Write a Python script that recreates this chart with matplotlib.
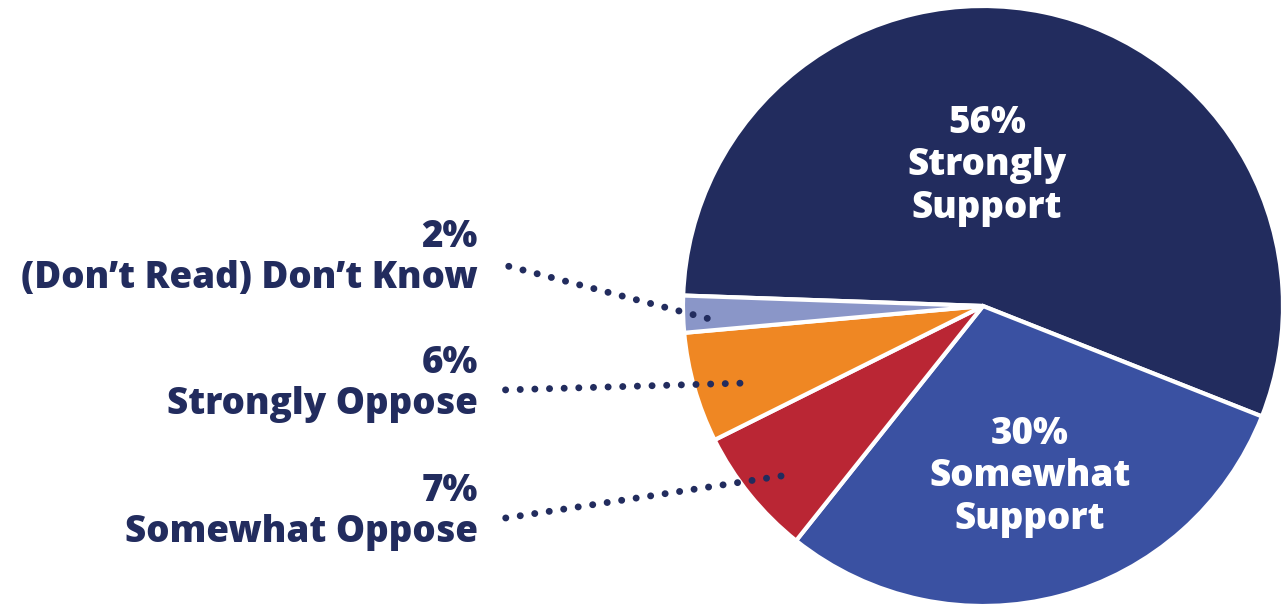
import matplotlib.pyplot as plt
import numpy as np

plt.rcParams['font.family'] = ['Open Sans', 'DejaVu Sans']

labels = ["Strongly\nSupport", "Somewhat\nSupport", "Somewhat Oppose",
          "Strongly Oppose", "(Don\u2019t Read) Don\u2019t Know"]
values = [56, 30, 7, 6, 2]
colors = ["#222C5E", "#3A51A2", "#BA2634", "#EF8723", "#8A96C8"]
navy = "#222C5E"

W, H = 1281, 607
fig = plt.figure(figsize=(W / 100, H / 100), dpi=100)
ax = fig.add_axes([0, 0, 1, 1])

cx, cy, r = 983, 301, 300
wedges, _ = ax.pie(values, colors=colors, startangle=178, counterclock=False,
                   center=(cx, cy), radius=r, frame=True,
                   wedgeprops=dict(edgecolor="white", linewidth=3))
ax.set_xlim(0, W)
ax.set_ylim(0, H)
ax.set_aspect("equal")
ax.axis("off")

fs = 26.5
# labels inside the two big slices
ax.text(987, 441, f"{values[0]}%\n{labels[0]}", ha="center", va="center",
        color="white", fontsize=fs, fontweight=800, linespacing=1.2)
ax.text(1030, 130, f"{values[1]}%\n{labels[1]}", ha="center", va="center",
        color="white", fontsize=fs, fontweight=800, linespacing=1.2)

# small slices: labels on the left with dotted leaders
# (slice index, label y, leader start, radius fraction, angle nudge)
small = [(4, 349, (500, 343), 0.92, 1.0),
         (3, 223, (502, 217), 0.85, 1.8),
         (2, 95, (499, 88), 0.88, 1.1)]
for i, ty, start, frac, nudge in small:
    w = wedges[i]
    mid = np.deg2rad((w.theta1 + w.theta2) / 2 + nudge)
    ex, ey = cx + frac * r * np.cos(mid), cy + frac * r * np.sin(mid)
    ax.plot([ex, start[0]], [ey, start[1]], color=navy, linewidth=5,
            linestyle=(0, (0.01, 2.1)), dash_capstyle="round", zorder=5)
    ax.text(478, ty, f"{values[i]}%\n{labels[i]}", ha="right", va="center",
            multialignment="right", color=navy, fontsize=fs,
            fontweight=800, linespacing=1.17)

fig.savefig("out.png", dpi=100)
